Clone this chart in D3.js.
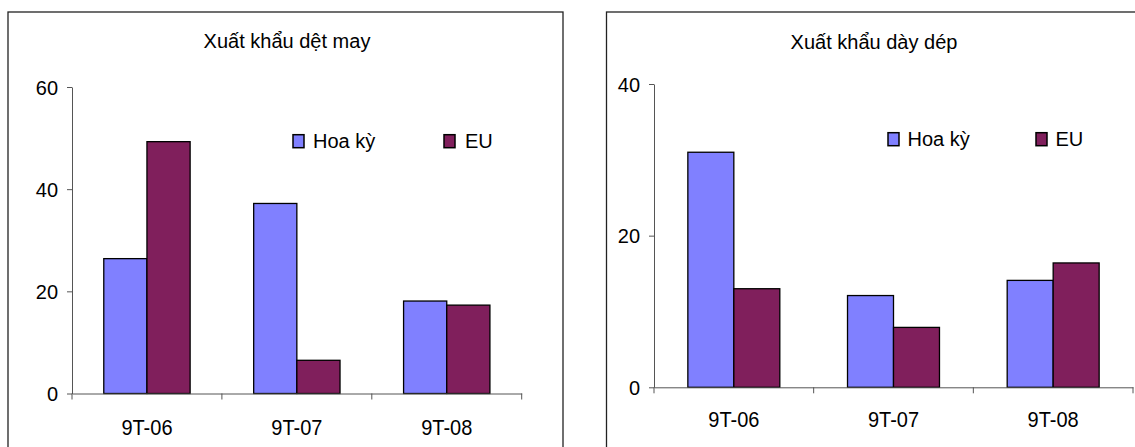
<!DOCTYPE html>
<html>
<head>
<meta charset="utf-8">
<script src="https://cdn.jsdelivr.net/npm/d3@7"></script>
<style>
  body { margin: 0; background: #fff; }
  text { font-family: "Liberation Sans", Arial, sans-serif; fill: #000; }
</style>
</head>
<body>
<div id="chart"></div>
<script>
// categories and series
const categories = ["9T-06", "9T-07", "9T-08"];
const seriesNames = ["Hoa kỳ", "EU"];
const seriesColors = ["#8080FF", "#801F5C"];

// Xuất khẩu dệt may
const textileUS = [26.4, 37.2, 18.1];
const textileEU = [49.3, 6.5, 17.3];
const textileTicks = [0, 20, 40, 60];

// Xuất khẩu dày dép
const footwearUS = [31, 12.1, 14.1];
const footwearEU = [13, 7.9, 16.4];
const footwearTicks = [0, 20, 40];

const W = 1135, H = 447;
const stretch = 1.1; // axis labels in the picture are a bit taller than wide

const svg = d3.select("#chart")
    .append("svg")
    .attr("width", W)
    .attr("height", H);

// layout of each panel (pixels)
const panels = [
    {
        title: "Xuất khẩu dệt may",
        us: textileUS, eu: textileEU, ticks: textileTicks,
        box: { x: 8, y: 12, w: 555, h: 470 },
        plot: { left: 72, right: 521.7, top: 87, bottom: 393.5 },
        titlePos: { x: 287, y: 47.5 },
        labelY: 435.5,
        legend: [{ box: 293, text: 313 }, { box: 444, text: 465 }],
        legendY: 147.7
    },
    {
        title: "Xuất khẩu dày dép",
        us: footwearUS, eu: footwearEU, ticks: footwearTicks,
        box: { x: 606.5, y: 12, w: 560, h: 470 },
        plot: { left: 654, right: 1133, top: 84, bottom: 387.3 },
        titlePos: { x: 874, y: 48.5 },
        labelY: 427.5,
        legend: [{ box: 888, text: 907.5 }, { box: 1036, text: 1055.5 }],
        legendY: 145.7
    }
];

panels.forEach(p => {
    const g = svg.append("g");

    // outer frame
    g.append("rect")
        .attr("x", p.box.x)
        .attr("y", p.box.y)
        .attr("width", p.box.w)
        .attr("height", p.box.h)
        .attr("fill", "none")
        .attr("stroke", "#222")
        .attr("stroke-width", 1.3);

    g.append("text")
        .attr("x", p.titlePos.x)
        .attr("y", p.titlePos.y)
        .attr("text-anchor", "middle")
        .attr("font-size", 20)
        .text(p.title);

    const x0 = d3.scaleBand()
        .domain(categories)
        .range([p.plot.left, p.plot.right]);
    const gap = x0.bandwidth() * 0.212;
    const x1 = d3.scaleBand()
        .domain(seriesNames)
        .range([gap, x0.bandwidth() - gap]);
    const y = d3.scaleLinear()
        .domain([0, d3.max(p.ticks)])
        .range([p.plot.bottom, p.plot.top]);

    const rows = categories.map((c, i) => ({
        cat: c,
        vals: [{ s: seriesNames[0], v: p.us[i] }, { s: seriesNames[1], v: p.eu[i] }]
    }));

    // bars
    g.selectAll(".grp")
        .data(rows)
        .enter()
        .append("g")
        .attr("transform", d => "translate(" + x0(d.cat) + ",0)")
        .selectAll("rect")
        .data(d => d.vals)
        .enter()
        .append("rect")
        .attr("x", d => x1(d.s))
        .attr("y", d => y(d.v))
        .attr("width", x1.bandwidth())
        .attr("height", d => y(0) - y(d.v))
        .attr("fill", (d, i) => seriesColors[i])
        .attr("stroke", "#000")
        .attr("stroke-width", 1.3);

    // y axis
    const yAxis = g.append("g")
        .attr("transform", "translate(" + p.plot.left + ",0)")
        .call(d3.axisLeft(y).tickValues(p.ticks).tickSize(5).tickSizeOuter(0).tickPadding(9));
    yAxis.attr("font-family", null);
    yAxis.selectAll("line, path").attr("stroke", "#555");
    yAxis.selectAll("text")
        .attr("font-size", 20)
        .attr("dy", 0)
        .attr("y", 7.2 / 1.05)
        .attr("transform", "scale(1,1.05)");

    // x axis: domain line + category labels
    const xAxis = g.append("g")
        .attr("transform", "translate(0," + p.plot.bottom + ")")
        .call(d3.axisBottom(x0).tickSize(0).tickSizeOuter(0).tickPadding(0));
    xAxis.attr("font-family", null);
    xAxis.select(".domain").attr("stroke", "#555");
    xAxis.selectAll("text")
        .attr("font-size", 20)
        .attr("dy", 0)
        .attr("y", (p.labelY - p.plot.bottom) / stretch)
        .attr("transform", "scale(1," + stretch + ")");

    // boundary ticks between categories
    const bounds = categories.map(c => x0(c)).concat([x0.range()[1]]);
    g.selectAll(".bt")
        .data(bounds)
        .enter()
        .append("line")
        .attr("x1", d => d)
        .attr("x2", d => d)
        .attr("y1", p.plot.bottom)
        .attr("y2", p.plot.bottom + 6)
        .attr("stroke", "#555");

    // legend
    seriesNames.forEach((s, i) => {
        g.append("rect")
            .attr("x", p.legend[i].box)
            .attr("y", p.legendY - 13)
            .attr("width", 11)
            .attr("height", 13)
            .attr("fill", seriesColors[i])
            .attr("stroke", "#000")
            .attr("stroke-width", 1.5);
        g.append("text")
            .attr("x", p.legend[i].text)
            .attr("y", p.legendY)
            .attr("font-size", 20)
            .text(s);
    });
});
</script>
</body>
</html>
